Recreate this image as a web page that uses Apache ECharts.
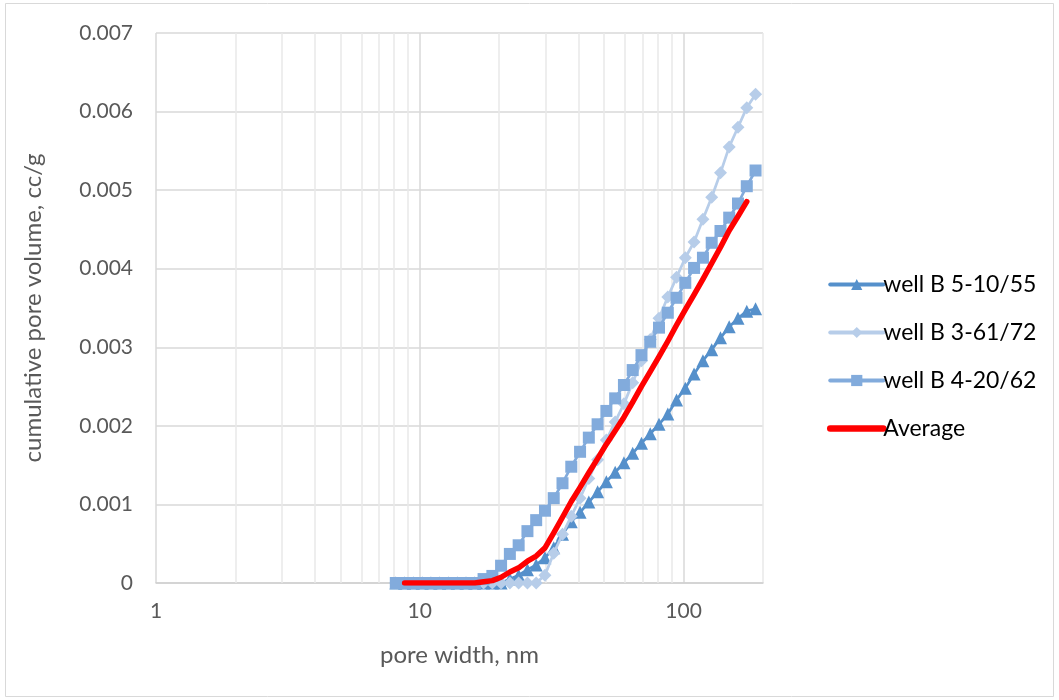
<!DOCTYPE html>
<html>
<head>
<meta charset="utf-8">
<script src="https://cdn.jsdelivr.net/npm/echarts@6/dist/echarts.min.js"></script>
<style>
  html, body { margin: 0; padding: 0; background: #fff; }
  #chart { width: 1059px; height: 700px; }
</style>
</head>
<body>
<div id="chart"></div>
<script>
// Pore width (nm) at which cumulative pore volume was sampled
const poreWidth = [
  8.11, 8.76, 9.45, 10.21, 11.02, 11.90, 12.84, 13.87, 14.97, 16.16,
  17.45, 18.84, 20.33, 21.95, 23.70, 25.59, 27.62, 29.82, 32.19, 34.75,
  37.52, 40.51, 43.73, 47.21, 50.97, 55.03, 59.41, 64.13, 69.24, 74.74,
  80.69, 87.12, 94.06, 101.5, 109.6, 118.4, 127.8, 138.0, 148.9, 160.8,
  173.6, 187.4
];

// Cumulative pore volume, cc/g
const wellB5_10_55 = [
  0, 0, 0, 0, 0, 0, 0, 0, 0, 0,
  0, 0, 0, 0.00005, 0.0001, 0.00017, 0.00023, 0.00032, 0.00045, 0.00062,
  0.00078, 0.0009, 0.00103, 0.00116, 0.00129, 0.00141, 0.00153, 0.00165, 0.00178, 0.0019,
  0.00202, 0.00215, 0.00233, 0.00248, 0.00266, 0.00283, 0.00297, 0.00312, 0.00326, 0.00337,
  0.00346, 0.00349
];
const wellB3_61_72 = [
  0, 0, 0, 0, 0, 0, 0, 0, 0, 0,
  0, 0, 0, 0, 0, 0, 0, 0.0001, 0.00038, 0.00062,
  0.00085, 0.00108, 0.00133, 0.00157, 0.00182, 0.00205, 0.00228, 0.00255, 0.00283, 0.0031,
  0.00337, 0.00364, 0.00389, 0.00414, 0.00434, 0.00463, 0.00491, 0.00522, 0.00555, 0.0058,
  0.00605, 0.00622
];
const wellB4_20_62 = [
  0, 0, 0, 0, 0, 0, 0, 0, 0, 0,
  0.00005, 0.00009, 0.00022, 0.00037, 0.00048, 0.00066, 0.0008, 0.00092, 0.00108, 0.00127,
  0.00148, 0.00167, 0.00185, 0.00202, 0.00219, 0.00235, 0.00252, 0.00271, 0.0029, 0.00307,
  0.00325, 0.00344, 0.00363, 0.00382, 0.00401, 0.00414, 0.00433, 0.00448, 0.00465, 0.00483,
  0.00505, 0.00525
];
// Average curve (first and last widths not averaged)
const average = [
  null, 0, 0, 0, 0, 0, 0, 0, 0, 0,
  0.000017, 0.00003, 0.000073, 0.00014, 0.000193, 0.000277, 0.000343, 0.000447, 0.000637, 0.000837,
  0.001037, 0.001217, 0.001403, 0.001583, 0.001767, 0.001937, 0.00211, 0.002303, 0.002503, 0.00269,
  0.00288, 0.003077, 0.003283, 0.00348, 0.00367, 0.003867, 0.00407, 0.004273, 0.004487, 0.004667,
  0.004853, null
];

const seriesNames = ['well B 5-10/55', 'well B 3-61/72', 'well B 4-20/62', 'Average'];
const yTicks = [0, 0.001, 0.002, 0.003, 0.004, 0.005, 0.006, 0.007];
// Minor log gridlines between decades
const minorGrid = [2, 3, 4, 5, 6, 7, 8, 9, 20, 30, 40, 50, 60, 70, 80, 90];

const FONT = 'Lato';

function pairs(ys) {
  const out = [];
  for (let i = 0; i < poreWidth.length; i++) {
    if (ys[i] !== null) out.push([poreWidth[i], ys[i]]);
  }
  return out;
}

const chart = echarts.init(document.getElementById('chart'), null, { renderer: 'canvas' });

const seriesLine = (color, width) => ({ color: color, width: width, join: 'round', cap: 'round' });

chart.setOption({
  animation: false,
  backgroundColor: '#ffffff',
  textStyle: { fontFamily: FONT },
  graphic: [{
    type: 'rect',
    shape: { x: 5.5, y: 3.5, width: 1048, height: 693 },
    style: { fill: 'none', stroke: '#D9D9D9', lineWidth: 1 },
    silent: true
  }],
  grid: { left: 156, top: 33, right: 296, bottom: 117, containLabel: false },
  legend: {
    orient: 'vertical',
    left: 822,
    top: 268,
    itemWidth: 53,
    itemHeight: 14,
    itemGap: 25,
    lineStyle: { width: 4 },
    data: [
      { name: seriesNames[0] },
      { name: seriesNames[1] },
      { name: seriesNames[2] },
      { name: seriesNames[3], itemStyle: { opacity: 0 }, lineStyle: { width: 6.5 } }
    ],
    textStyle: { fontFamily: FONT, fontSize: 23, color: '#000000', lineHeight: 20, padding: [0, 0, 0, -5] }
  },
  xAxis: {
    type: 'log',
    logBase: 10,
    min: 1,
    max: 200,
    name: 'pore width, nm',
    nameLocation: 'middle',
    nameGap: 60,
    nameTextStyle: { fontFamily: FONT, fontSize: 24, color: '#595959' },
    axisLine: { show: true, lineStyle: { color: '#D0D0D0', width: 1.5 } },
    axisTick: { show: false },
    axisLabel: {
      margin: 18,
      fontFamily: FONT,
      fontSize: 21,
      color: '#595959',
      formatter: function (v) {
        const l = Math.log10(v);
        return Math.abs(l - Math.round(l)) < 1e-9 ? String(Math.round(v)) : '';
      }
    },
    splitLine: { show: true, lineStyle: { color: ['#D9D9D9', '#D9D9D9', '#D9D9D9', '#E8E8E8'], width: 1.5 } },
    minorTick: { show: false },
    minorSplitLine: { show: false }
  },
  yAxis: {
    type: 'value',
    min: 0,
    max: 0.007,
    interval: 0.001,
    name: 'cumulative pore volume, cc/g',
    nameLocation: 'middle',
    nameGap: 111,
    nameTextStyle: { fontFamily: FONT, fontSize: 24, color: '#595959' },
    axisLine: { show: false },
    axisTick: { show: false },
    axisLabel: {
      margin: 23,
      fontFamily: FONT,
      fontSize: 21,
      color: '#595959',
      formatter: function (v) {
        const i = yTicks.findIndex(t => Math.abs(t - v) < 1e-9);
        return i >= 0 ? String(yTicks[i]) : '';
      }
    },
    splitLine: { show: true, lineStyle: { color: '#D9D9D9', width: 1.5 } }
  },
  series: [
    {
      name: seriesNames[0],
      type: 'line',
      data: pairs(wellB5_10_55),
      symbol: 'triangle',
      symbolSize: 13,
      itemStyle: { color: '#5590CB' },
      lineStyle: seriesLine('#5590CB', 2.75),
      z: 2,
      markLine: {
        silent: true,
        symbol: 'none',
        label: { show: false },
        lineStyle: { color: '#E8E8E8', width: 1.5, type: 'solid' },
        data: minorGrid.map(v => ({ xAxis: v })),
        z: 1
      }
    },
    {
      name: seriesNames[1],
      type: 'line',
      data: pairs(wellB3_61_72),
      symbol: 'diamond',
      symbolSize: 13,
      itemStyle: { color: '#B7CDE9' },
      lineStyle: seriesLine('#B7CDE9', 2.75),
      z: 3
    },
    {
      name: seriesNames[2],
      type: 'line',
      data: pairs(wellB4_20_62),
      symbol: 'rect',
      symbolSize: 12,
      itemStyle: { color: '#82ABDC' },
      lineStyle: seriesLine('#82ABDC', 2.75),
      z: 4
    },
    {
      name: seriesNames[3],
      type: 'line',
      data: pairs(average),
      symbol: 'none',
      itemStyle: { color: '#FF0000' },
      lineStyle: seriesLine('#FF0000', 5.5),
      z: 5
    }
  ]
});
</script>
</body>
</html>
